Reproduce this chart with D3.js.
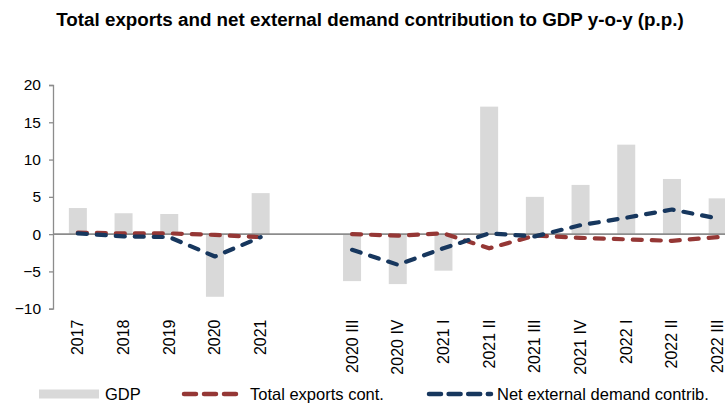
<!DOCTYPE html>
<html><head><meta charset="utf-8">
<script src="https://cdn.jsdelivr.net/npm/d3@7"></script>
<style>body{margin:0;background:#fff}svg{display:block}</style>
</head><body>
<svg id="c" width="725" height="403"></svg>
<script>
const categories = ["2017","2018","2019","2020","2021","","2020 III","2020 IV","2021 I","2021 II","2021 III","2021 IV","2022 I","2022 II","2022 III"];
const gdp          = [3.5, 2.8, 2.7, -8.4, 5.5, null, -6.3, -6.7, -4.9, 17.1, 5.0, 6.6, 12.0, 7.4, 4.8];
const exportsCont  = [0.2, 0.1, 0.1, -0.1, -0.4, null, 0.0, -0.2, 0.1, -1.9, -0.2, -0.5, -0.7, -0.9, -0.4];
const netExternal  = [0.1, -0.3, -0.4, -3.0, -0.4, null, -2.1, -4.1, -1.9, 0.1, -0.3, 1.2, 2.2, 3.3, 2.1];
const yTicks = [-10, -5, 0, 5, 10, 15, 20];
const title = "Total exports and net external demand contribution to GDP y-o-y (p.p.)";
const legendLabels = ["GDP", "Total exports cont.", "Net external demand contrib."];

const svg = d3.select("#c");
const font = "'Liberation Sans', Arial, sans-serif";
const C = {bar:"#d9d9d9", red:"#953735", blue:"#17375e", axis:"#8c8c8c"};

const x = d3.scaleBand().domain(d3.range(categories.length)).range([55, 55 + 15*45.7]).paddingInner(0.6).paddingOuter(0.3);
const xc = i => x(i) + x.bandwidth()/2;
const y = d3.scaleLinear().domain([-10, 20]).range([308.7, 85]);

svg.append("text").attr("x", 370).attr("y", 26).attr("text-anchor","middle")
  .attr("font-family", font).attr("font-weight","bold").attr("font-size", 18.8).attr("fill","#000").text(title);

// bars
const idx = d3.range(categories.length);
svg.append("g").selectAll("rect").data(idx.filter(i => gdp[i] != null)).join("rect")
  .attr("x", i => xc(i) - 9).attr("width", 18)
  .attr("y", i => y(Math.max(0, gdp[i]))).attr("height", i => Math.abs(y(gdp[i]) - y(0)))
  .attr("fill", C.bar);

// y axis
const ya = svg.append("g").attr("transform","translate(53,0)")
  .call(d3.axisLeft(y).tickValues(yTicks).tickSize(4).tickPadding(8).tickFormat(d3.format("d")));
ya.select(".domain").attr("stroke", C.axis).attr("stroke-width",1.3);
ya.selectAll(".tick line").attr("stroke", C.axis).attr("stroke-width",1.3);
ya.selectAll(".tick text").attr("font-family", font).attr("font-size", 15.5).attr("fill","#000");

// zero line
svg.append("line").attr("x1",53).attr("x2",725).attr("y1",y(0)).attr("y2",y(0))
  .attr("stroke", C.axis).attr("stroke-width",1.6);

// x labels
svg.append("g").selectAll("text").data(idx.filter(i => categories[i] !== "")).join("text")
  .attr("transform", i => `translate(${xc(i)+5.5},319.5) rotate(-90)`)
  .attr("text-anchor","end").attr("font-family", font).attr("font-size", 16).attr("fill","#000")
  .text(i => categories[i]);

// lines
const line = d3.line().defined(d => d[1] != null).x(d => xc(d[0])).y(d => y(d[1]));
function drawLine(vals, color) {
  svg.append("path").datum(idx.map(i => [i, vals[i]]))
    .attr("d", line).attr("fill","none").attr("stroke", color).attr("stroke-width", 4.2)
    .attr("stroke-linecap","round").attr("stroke-linejoin","round").attr("stroke-dasharray","9,10");
}
drawLine(exportsCont, C.red);
drawLine(netExternal, C.blue);

// legend
const ly = 394;
svg.append("rect").attr("x",39).attr("y",ly-4.5).attr("width",60).attr("height",9).attr("fill",C.bar);
svg.append("text").attr("x",105).attr("y",ly+6).attr("font-family",font).attr("font-size",16.5).text(legendLabels[0]);
svg.append("line").attr("x1",184).attr("x2",238).attr("y1",ly).attr("y2",ly)
  .attr("stroke",C.red).attr("stroke-width",4.5).attr("stroke-linecap","round").attr("stroke-dasharray","12,8");
svg.append("text").attr("x",250).attr("y",ly+6).attr("font-family",font).attr("font-size",16.5).text(legendLabels[1]);
svg.append("line").attr("x1",429).attr("x2",491).attr("y1",ly).attr("y2",ly)
  .attr("stroke",C.blue).attr("stroke-width",4.5).attr("stroke-linecap","round").attr("stroke-dasharray","12,7.6");
svg.append("text").attr("x",497).attr("y",ly+6).attr("font-family",font).attr("font-size",16.5).text(legendLabels[2]);
</script>
</body></html>
